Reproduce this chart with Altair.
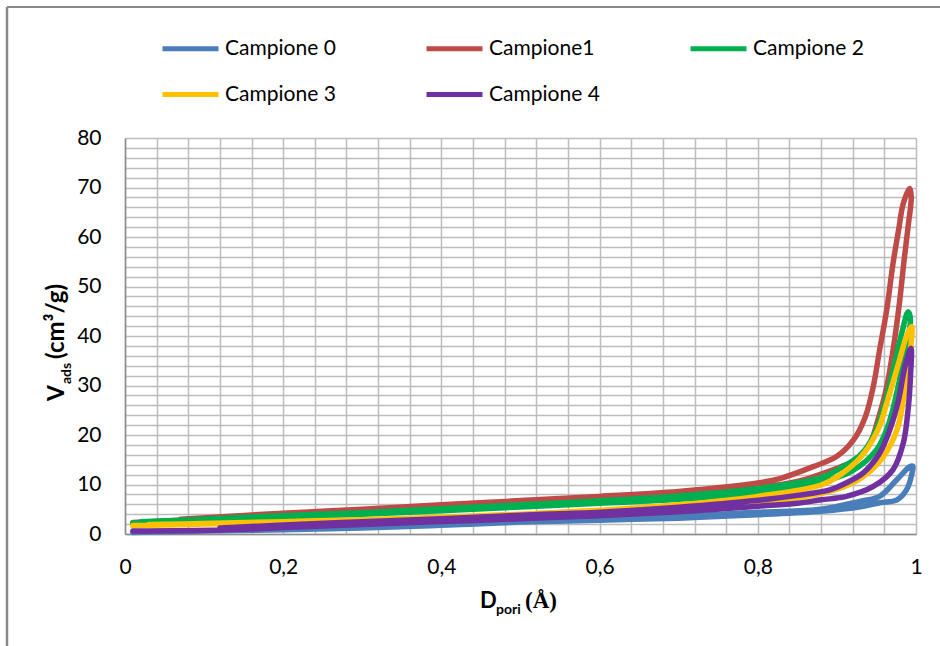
import altair as alt
import pandas as pd

series_names = ["Campione 0", "Campione1", "Campione 2", "Campione 3", "Campione 4"]
series_colors = ["#4a7ebb", "#be4b48", "#00b050", "#ffc000", "#7030a0"]

# Campione 0 (adsorption branch then desorption branch)
c0_x = [0.01, 0.05, 0.1, 0.2, 0.3, 0.4, 0.5, 0.6, 0.7, 0.8, 0.88, 0.93, 0.954, 0.976, 0.988, 0.995, 0.996,
        0.992, 0.976, 0.954, 0.929, 0.88, 0.8, 0.7, 0.6, 0.5, 0.4, 0.3, 0.2, 0.12]
c0_y = [0.3, 0.45, 0.6, 0.85, 1.2, 1.75, 2.4, 2.8, 3.2, 3.9, 4.6, 5.5, 6.3, 6.9, 8.9, 12.3, 13.7,
        13.6, 11.0, 7.6, 6.6, 5.0, 4.4, 3.6, 3.2, 2.8, 2.1, 1.5, 1.15, 0.9]

# Campione1
c1_x = [0.01, 0.1, 0.2, 0.3, 0.4, 0.5, 0.6, 0.7, 0.8, 0.85, 0.88, 0.905, 0.925, 0.942, 0.952, 0.963, 0.971, 0.979, 0.985, 0.99, 0.994,
        0.992, 0.984, 0.978, 0.971, 0.963, 0.954, 0.946, 0.936, 0.921, 0.9, 0.87, 0.828, 0.8, 0.7, 0.6, 0.5, 0.4, 0.3, 0.2, 0.07]
c1_y = [2.3, 3.0, 3.7, 4.3, 5.0, 6.0, 6.8, 7.7, 9.3, 10.6, 12.1, 13.6, 15.0, 18.4, 23.1, 29.8, 37.2, 46.6, 55.4, 62.1, 68.1,
        69.8, 66.8, 61.4, 54.7, 45.3, 37.2, 29.8, 23.7, 19.0, 15.7, 13.6, 11.2, 10.3, 8.6, 7.6, 6.75, 5.9, 5.0, 4.2, 3.0]

# Campione 2
c2_x = [0.01, 0.1, 0.2, 0.3, 0.4, 0.5, 0.6, 0.7, 0.8, 0.85, 0.88, 0.92, 0.95, 0.965, 0.975, 0.985, 0.993,
        0.99, 0.982, 0.973, 0.963, 0.946, 0.93, 0.91, 0.88, 0.8, 0.7, 0.6, 0.5, 0.4, 0.3, 0.2, 0.1, 0.02]
c2_y = [2.2, 2.8, 3.4, 4.0, 4.7, 5.45, 6.2, 7.0, 8.4, 9.3, 10.4, 12.8, 17.0, 22.0, 28.0, 36.0, 43.3,
        44.9, 40.6, 34.5, 27.8, 19.7, 16.0, 13.8, 11.4, 9.2, 7.7, 6.7, 5.9, 5.1, 4.3, 3.7, 3.0, 2.5]

# Campione 3
c3_x = [0.01, 0.1, 0.2, 0.3, 0.4, 0.5, 0.6, 0.7, 0.8, 0.85, 0.88, 0.91, 0.935, 0.959, 0.976, 0.986, 0.992, 0.9945,
        0.988, 0.978, 0.963, 0.952, 0.93, 0.9, 0.88, 0.8, 0.7, 0.6, 0.5, 0.4, 0.3, 0.2, 0.1, 0.03]
c3_y = [1.7, 2.0, 2.4, 2.8, 3.3, 3.8, 4.4, 5.2, 6.5, 7.3, 8.2, 9.6, 11.8, 15.7, 21.1, 29.1, 35.8, 41.9,
        39.9, 34.5, 26.4, 21.1, 15.5, 11.5, 9.9, 7.6, 5.9, 4.8, 4.0, 3.4, 2.9, 2.5, 2.1, 1.9]

# Campione 4
c4_x = [0.01, 0.12, 0.2, 0.3, 0.4, 0.5, 0.6, 0.7, 0.8, 0.85, 0.88, 0.912, 0.946, 0.971, 0.984, 0.99, 0.993, 0.9937,
        0.986, 0.978, 0.967, 0.954, 0.933, 0.91, 0.891, 0.85, 0.8, 0.7, 0.6, 0.5, 0.4, 0.3, 0.2, 0.12]
c4_y = [0.6, 0.8, 1.3, 1.9, 2.5, 3.1, 3.7, 4.5, 5.6, 6.2, 6.9, 7.6, 9.6, 13.0, 18.4, 25.1, 31.8, 37.5,
        33.8, 27.1, 21.1, 16.3, 12.3, 10.2, 8.9, 7.8, 6.8, 5.4, 4.4, 3.8, 3.1, 2.5, 1.8, 1.2]

x_grid = [round(i * 0.04, 2) for i in range(26)]
y_grid = list(range(0, 82, 2))

all_x = [c0_x, c1_x, c2_x, c3_x, c4_x]
all_y = [c0_y, c1_y, c2_y, c3_y, c4_y]
rows = []
for name, xs, ys in zip(series_names, all_x, all_y):
    for i, (xv, yv) in enumerate(zip(xs, ys)):
        rows.append({"serie": name, "x": xv, "y": yv, "ord": i})
df = pd.DataFrame(rows)

FONT = "Lato"
W, H = 791, 396
PL, PT = 125, 138

color_scale = alt.Scale(domain=series_names, range=series_colors)

x_enc = alt.X("x:Q", scale=alt.Scale(domain=[0, 1], nice=False),
              axis=alt.Axis(values=x_grid, title=None, ticks=False, labelOverlap=False, labelFlush=False,
                            labelExpr="(round(datum.value*100) % 20 == 0) ? (datum.value == 0 ? '0' : (datum.value == 1 ? '1' : replace(format(datum.value, '.1f'), '.', ','))) : ''",
                            labelFontSize=21, labelFont=FONT, labelColor="#000000", labelPadding=22,
                            gridColor="#bdbdbd", gridWidth=1.5, domainColor="#8c8c8c", domainWidth=1.5))
y_enc = alt.Y("y:Q", scale=alt.Scale(domain=[0, 80], nice=False),
              axis=alt.Axis(values=y_grid, title=None, ticks=False, labelOverlap=False, labelFlush=False,
                            labelExpr="(datum.value % 10 == 0) ? datum.value : ''",
                            labelFontSize=21, labelFont=FONT, labelColor="#000000", labelPadding=24,
                            gridColor="#bdbdbd", gridWidth=1.5, domainColor="#8c8c8c", domainWidth=1.5))

layers = []
for k, name in enumerate(series_names):
    legend = None
    if k == 0:
        legend = alt.Legend(title=None, orient="none", legendX=35, legendY=-120, columns=3,
                            direction="horizontal",
                            gridAlign="all", columnPadding=80, rowPadding=5,
                            symbolType="stroke", symbolSize=3136, symbolStrokeWidth=5,
                            labelFont=FONT, labelFontSize=21, labelColor="#000000", labelOffset=4,
                            labelLimit=300)
    layer = alt.Chart(df).transform_filter(alt.datum.serie == name).mark_line(
        strokeWidth=5.5, strokeCap="round", strokeJoin="round", interpolate="catmull-rom"
    ).encode(
        x=x_enc, y=y_enc,
        color=alt.Color("serie:N", scale=color_scale, legend=legend),
        order="ord:Q",
    )
    layers.append(layer)

one = pd.DataFrame({"a": [0]})

def txt(s, x, y, size, angle=0, font=FONT, weight="bold"):
    return alt.Chart(one).mark_text(text=s, align="left", baseline="alphabetic", fontSize=size,
                                    font=font, fontWeight=weight, angle=angle, color="#000000").encode(
        x=alt.value(x), y=alt.value(y))

titles = [
    txt("V", 64 - PL, 401 - PT, 23, angle=270),
    txt("ads", 71 - PL, 384 - PT, 14, angle=270),
    txt("(cm³/g)", 64 - PL, 359 - PT, 24, angle=270),
    txt("D", 480 - PL, 608 - PT, 22),
    txt("pori", 496 - PL, 614 - PT, 14),
    txt("(Å)", 525 - PL, 608 - PT, 23, font="Liberation Serif"),
]

frame_left = alt.Chart(one).mark_rule(color="#8a8a8a", strokeWidth=2.5).encode(
    x=alt.value(7 - PL), y=alt.value(7 - PT), y2=alt.value(646 - PT))
frame_top = alt.Chart(one).mark_rule(color="#8a8a8a", strokeWidth=2).encode(
    x=alt.value(7 - PL), x2=alt.value(940 - PL), y=alt.value(7 - PT))

chart = alt.layer(*layers, *titles, frame_left, frame_top).properties(
    width=W, height=H,
    autosize=alt.AutoSizeParams(type="none"),
    padding={"left": PL, "top": PT, "right": 940 - PL - W, "bottom": 646 - PT - H},
).configure_view(stroke=None).configure(font=FONT, background="white")

chart.save("out.html", embed_options={"renderer": "svg", "actions": False})
